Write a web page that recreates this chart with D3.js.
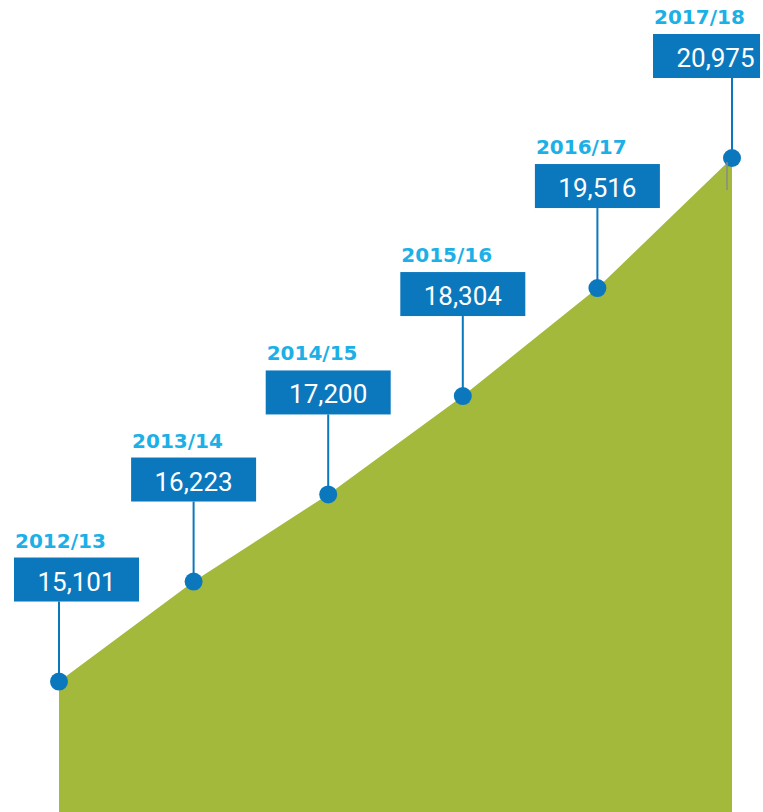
<!DOCTYPE html>
<html>
<head>
<meta charset="utf-8">
<script src="https://cdn.jsdelivr.net/npm/d3@7"></script>
<style>
  html, body { margin: 0; padding: 0; background: #fff; }
  svg { display: block; }
</style>
</head>
<body>
<svg id="chart" width="763" height="812"></svg>
<script>
// data
const years = ["2012/13", "2013/14", "2014/15", "2015/16", "2016/17", "2017/18"];
const values = [15101, 16223, 17200, 18304, 19516, 20975];

const width = 763;
const height = 812;
const boxW = 125, boxH = 44, boxGap = 80;
// small sideways shifts so the end boxes stay inside the picture
const boxNudge = [17.5, 0, 0, 0, 0, -16.5];
const boxWidths = [125, 125, 125, 125, 125, 107];

const blue = "#0b78be";
const cyan = "#1cb0e6";
const green = "#a3b93b";

const svg = d3.select("#chart");

const x = d3.scalePoint()
    .domain(years)
    .range([59, 732]);

const y = d3.scaleLinear()
    .domain([13637, 20975])
    .range([height, 158]);

const rows = years.map((yr, i) => ({year: yr, value: values[i], i: i}));

const area = d3.area()
    .x(d => x(d.year))
    .y0(height)
    .y1(d => y(d.value));

svg.append("path")
    .datum(rows)
    .attr("fill", green)
    .attr("d", area);

// leader lines from box to point
svg.selectAll(".leader")
    .data(rows)
    .join("line")
    .attr("class", "leader")
    .attr("x1", d => x(d.year))
    .attr("x2", d => x(d.year))
    .attr("y1", d => y(d.value) - boxGap)
    .attr("y2", d => y(d.value))
    .attr("stroke", blue)
    .attr("stroke-width", 2);

svg.selectAll(".dot")
    .data(rows)
    .join("circle")
    .attr("class", "dot")
    .attr("cx", d => x(d.year))
    .attr("cy", d => y(d.value))
    .attr("r", 9)
    .attr("fill", blue);

// little grey tick by the last point
const last = rows[rows.length - 1];
svg.append("line")
    .attr("x1", x(last.year) - 5)
    .attr("x2", x(last.year) - 5)
    .attr("y1", y(last.value) + 4)
    .attr("y2", y(last.value) + 32)
    .attr("stroke", "#8a8a8a")
    .attr("stroke-width", 1.5);

const boxLeft = d => x(d.year) - boxW / 2 + boxNudge[d.i];
const boxTop = d => y(d.value) - boxGap - boxH;

const labels = svg.selectAll(".label")
    .data(rows)
    .join("g")
    .attr("class", "label");

labels.append("rect")
    .attr("x", boxLeft)
    .attr("y", boxTop)
    .attr("width", d => boxWidths[d.i])
    .attr("height", boxH)
    .attr("fill", blue);

labels.append("text")
    .attr("x", d => boxLeft(d) + boxW / 2)
    .attr("y", d => boxTop(d) + 33)
    .attr("text-anchor", "middle")
    .attr("fill", "#fff")
    .style("font-family", "Roboto, 'Noto Sans', sans-serif")
    .style("font-weight", 400)
    .style("font-size", "26px")
    .text(d => d3.format(",")(d.value));

labels.append("text")
    .attr("x", d => boxLeft(d) + 1)
    .attr("y", d => boxTop(d) - 10)
    .attr("fill", cyan)
    .style("font-family", "'DejaVu Sans', sans-serif")
    .style("font-weight", "bold")
    .style("font-size", "20px")
    .text(d => d.year);
</script>
</body>
</html>
